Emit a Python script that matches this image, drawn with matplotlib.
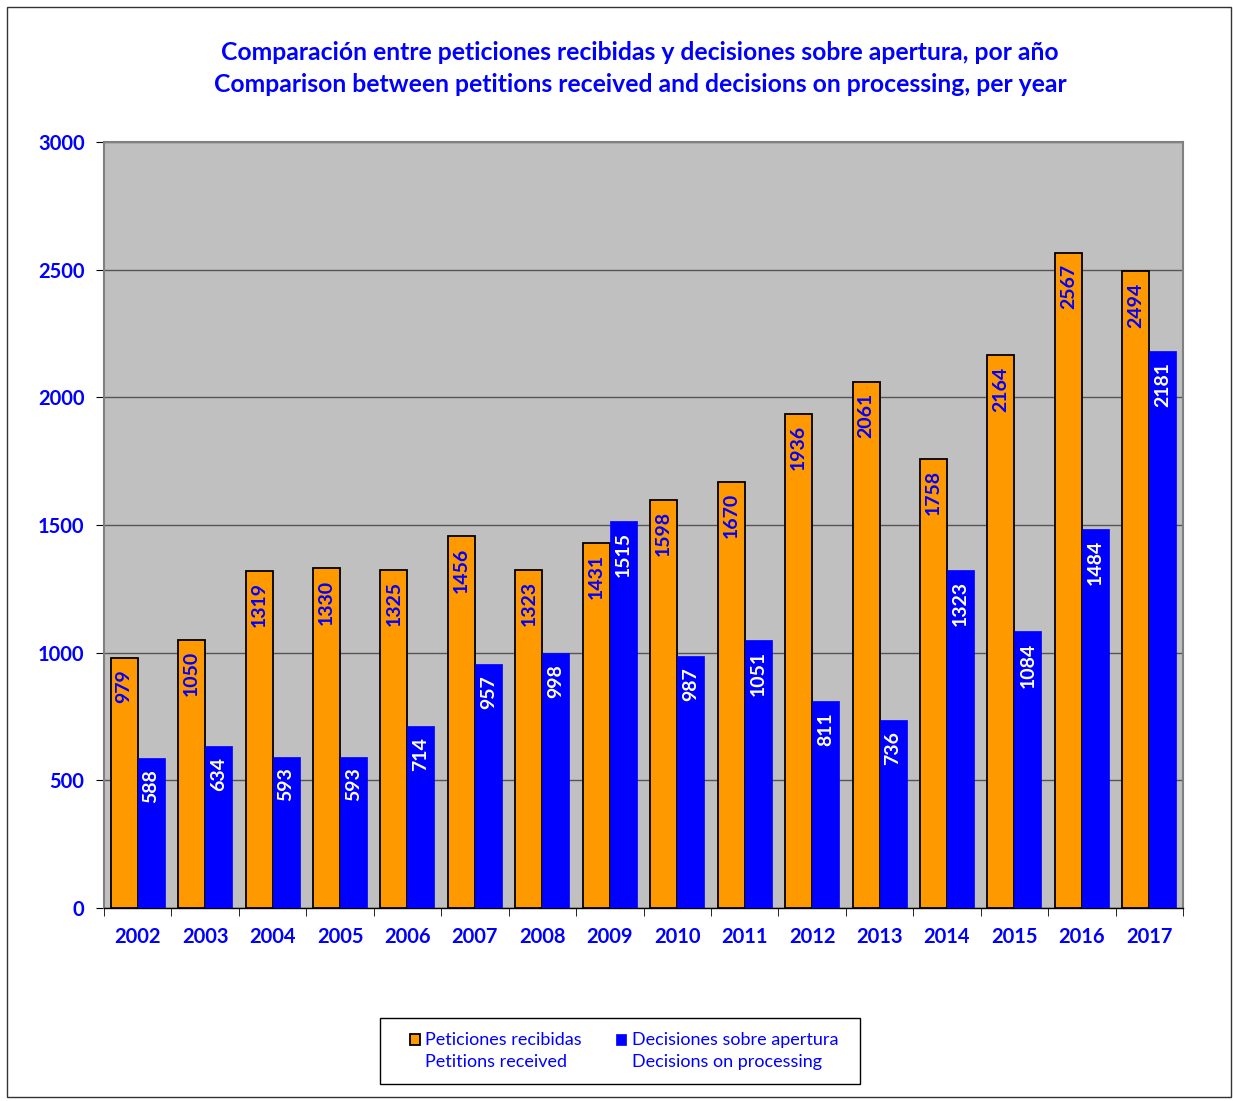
import matplotlib.pyplot as plt
import numpy as np
from matplotlib.patches import Rectangle

years = ["2002", "2003", "2004", "2005", "2006", "2007", "2008", "2009",
         "2010", "2011", "2012", "2013", "2014", "2015", "2016", "2017"]
peticiones = [979, 1050, 1319, 1330, 1325, 1456, 1323, 1431,
              1598, 1670, 1936, 2061, 1758, 2164, 2567, 2494]
decisiones = [588, 634, 593, 593, 714, 957, 998, 1515,
              987, 1051, 811, 736, 1323, 1084, 1484, 2181]

ORANGE = "#FF9900"
BLUE = "#0000FF"
FONT = ["Lato", "DejaVu Sans"]

plt.rcParams['font.family'] = FONT

W, H = 1233, 1101
fig = plt.figure(figsize=(W / 100, H / 100), dpi=100)
fig.patches.append(Rectangle((7 / W, 4 / H), 1224 / W, 1090 / H,
                             transform=fig.transFigure, fill=False,
                             edgecolor="#333333", linewidth=1))

ax = fig.add_axes([104 / W, 1 - 908 / H, 1079 / W, 766 / H])
ax.set_facecolor("#C0C0C0")

x = np.arange(len(years))
w = 0.4
b1 = ax.bar(x - w / 2, peticiones, w, color=ORANGE, edgecolor="black", linewidth=1.3,
            label="Peticiones recibidas\nPetitions received", zorder=3)
b2 = ax.bar(x + w / 2, decisiones, w, color=BLUE, edgecolor=BLUE, linewidth=0.5,
            label="Decisiones sobre apertura\nDecisions on processing", zorder=3)

for xi, v in zip(x, peticiones):
    ax.annotate(str(v), (xi - w / 2, v), xytext=(0, -8), textcoords="offset points",
                rotation=90, ha="center", va="top", color=BLUE,
                fontsize=14, fontweight="bold", zorder=4)
for xi, v in zip(x, decisiones):
    ax.annotate(str(v), (xi + w / 2, v), xytext=(0, -8), textcoords="offset points",
                rotation=90, ha="center", va="top", color="white",
                fontsize=14, fontweight="bold", zorder=4)

ax.set_xlim(-0.5, len(years) - 0.5)
ax.set_ylim(0, 3000)
ax.set_yticks(np.arange(0, 3001, 500))
ax.yaxis.grid(True, color="#555555", linewidth=1, zorder=1)
ax.set_axisbelow(True)

ax.set_xticks(x)
ax.set_xticklabels(years)
ax.set_xticks(np.arange(-0.5, len(years), 1), minor=True)
ax.tick_params(axis="x", which="major", length=0, pad=14, labelsize=14.5,
               labelcolor=BLUE)
ax.tick_params(axis="x", which="minor", length=6, direction="out", color="black")
ax.tick_params(axis="y", length=6, direction="out", pad=8, labelsize=14.5,
               labelcolor=BLUE)
for lbl in ax.get_xticklabels() + ax.get_yticklabels():
    lbl.set_fontweight("bold")

for side in ["top", "right", "left"]:
    ax.spines[side].set_color("#808080")
    ax.spines[side].set_linewidth(1.5)
ax.spines["bottom"].set_color("black")
ax.spines["bottom"].set_linewidth(1)

fig.text(640 / W, 1 - 53 / H,
         "Comparación entre peticiones recibidas y decisiones sobre apertura, por año",
         ha="center", va="center", color=BLUE, fontsize=17.8, fontweight="bold")
fig.text(640 / W, 1 - 85 / H,
         "Comparison between petitions received and decisions on processing, per year",
         ha="center", va="center", color=BLUE, fontsize=17.8, fontweight="bold")

# legend box drawn separately so the padding can be wider than tall
fig.patches.append(Rectangle((380 / W, 1 - 1084 / H), 480 / W, 66 / H,
                             transform=fig.transFigure, fill=False,
                             edgecolor="black", linewidth=1))
leg = fig.legend(handles=[b1, b2], loc="center", ncol=2,
                 bbox_to_anchor=(624 / W, 1 - 1051 / H),
                 frameon=False, fontsize=13, handlelength=0.55, handleheight=0.55,
                 handletextpad=0.3, columnspacing=1.9, borderpad=0.9)
for t in leg.get_texts():
    t.set_color(BLUE)
    t.set_multialignment("left")
    t.set_linespacing(1.45)
# put the colour boxes next to the first line, as in the original
for p in leg.get_patches():
    p.set_y(p.get_y() + 8.5)

fig.savefig("out.png", dpi=100)
